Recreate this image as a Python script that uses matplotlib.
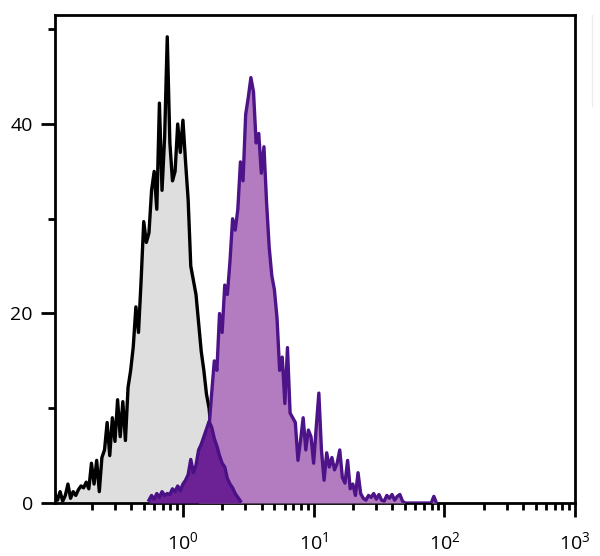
import numpy as np
import matplotlib
matplotlib.use("Agg")
import matplotlib.pyplot as plt
from matplotlib.lines import Line2D
from matplotlib.ticker import LogLocator, NullFormatter, MultipleLocator

plt.rcParams["font.family"] = ["Open Sans", "DejaVu Sans"]
plt.rcParams["mathtext.fontset"] = "custom"
plt.rcParams["mathtext.rm"] = "Open Sans"
plt.rcParams["mathtext.it"] = "Open Sans"

# Channel grid: 50 log channels per decade starting at 10^-1
channel_step = 0.02

# Isotype control (gray), starting at channel 1
gray_start = 1
gray_counts = [1.0, 0.3, 1.2, 0.2, 0.8, 2.0, 0.5, 1.2, 0.8, 1.4,
               1.8, 1.6, 2.2, 1.5, 4.2, 2.0, 4.5, 1.2, 4.8, 5.6,
               8.5, 5.0, 9.0, 6.5, 10.9, 7.0, 10.7, 6.6, 12.2, 14.0,
               16.5, 20.7, 18.0, 23.5, 29.7, 27.5, 28.5, 33.0, 35.0, 31.0,
               42.2, 33.0, 38.6, 49.2, 38.0, 34.0, 35.0, 40.0, 37.0, 40.4,
               36.0, 32.0, 25.0, 23.5, 22.0, 19.0, 16.0, 14.0, 11.5, 10.0,
               7.0, 4.5, 2.0, 0.5]

# Stained sample (purple), starting at channel 56
purple_start = 56
purple_counts = [0.5, 1.5, 3.0, 5.0, 8.0, 11.6, 15.0, 14.0, 20.0, 18.0,
                 23.0, 22.0, 25.5, 30.0, 28.8, 31.0, 36.0, 34.0, 41.0, 42.8,
                 44.9, 43.4, 38.0, 39.0, 34.8, 37.6, 31.7, 27.0, 24.0, 22.5,
                 19.5, 14.0, 15.4, 10.5, 16.4, 9.5, 9.0, 8.5, 4.5, 6.6,
                 9.0, 5.6, 7.7, 7.0, 4.2, 8.0, 11.6, 5.6, 2.4, 5.3,
                 3.8, 4.8, 3.5, 4.2, 5.6, 2.7, 2.1, 4.5, 1.5, 2.0,
                 0.8, 3.2, 1.0, 0.5, 0.3, 0.8, 0.6, 1.0, 0.4, 0.9,
                 0.3, 0.2, 0.8, 0.5, 0.9, 0.3, 0.7, 0.9, 0.2, 0.0,
                 0.0, 0.0, 0.0, 0.0, 0.0, 0.0, 0.0, 0.0, 0.0, 0.0,
                 0.7, 0.0]

# Low population overlapping the control (dark purple), starting at channel 37
dim_start = 37
dim_counts = [0.3, 0.8, 0.4, 1.0, 0.6, 1.2, 0.8, 1.0, 0.9, 1.5,
              1.2, 1.8, 1.3, 2.0, 2.4, 3.0, 4.6, 3.2, 4.0, 5.6,
              6.2, 7.0, 7.8, 8.6, 8.0, 6.8, 6.0, 5.0, 4.2, 3.8,
              2.6, 2.0, 1.6, 1.0, 0.6, 0.2]


def channels_to_x(start, n):
    idx = np.arange(start, start + n)
    return 10 ** (-1 + channel_step * idx)


fig = plt.figure(figsize=(6.0, 5.56), dpi=100)
ax = fig.add_axes([0.0917, 0.0953, 0.8666, 0.8777])

xg = channels_to_x(gray_start, len(gray_counts))
ax.fill_between(xg, gray_counts, 0, color="#dedede", lw=0, zorder=1)
ax.plot(xg, gray_counts, color="black", lw=2.4, zorder=2)

xp = channels_to_x(purple_start, len(purple_counts))
ax.fill_between(xp, purple_counts, 0, color="#b37cc0", lw=0, zorder=3)
ax.plot(xp, purple_counts, color="#4c1488", lw=2.4, zorder=4)

xd = channels_to_x(dim_start, len(dim_counts))
ax.fill_between(xd, dim_counts, 0, color="#6c2294", lw=0, zorder=5)
ax.plot(xd, dim_counts, color="#4a1086", lw=2.4, zorder=6)

ax.set_xscale("log")
ax.set_xlim(0.105, 1000)
ax.set_ylim(0, 51.5)

ax.xaxis.set_major_locator(LogLocator(base=10, numticks=10))
ax.xaxis.set_minor_locator(LogLocator(base=10, subs=np.arange(2, 10), numticks=20))
ax.xaxis.set_minor_formatter(NullFormatter())
ax.set_xticks([1, 10, 100, 1000])
ax.set_xticklabels([r"$10^0$", r"$10^1$", r"$10^2$", r"$10^3$"])

ax.yaxis.set_major_locator(MultipleLocator(20))
ax.yaxis.set_minor_locator(MultipleLocator(10))

ax.tick_params(which="major", direction="out", length=10, width=2,
               labelsize=14, color="black", pad=6)
ax.tick_params(which="minor", direction="out", length=5, width=2, color="black")
ax.tick_params(axis="x", which="major", pad=10)

for side in ["left", "right", "top", "bottom"]:
    ax.spines[side].set_linewidth(2)
    ax.spines[side].set_color("black")

# faint scanning artefact at the right edge
fig.add_artist(Line2D([0.987, 0.987], [0.81, 0.973], color="#ececec", lw=1))

fig.savefig("out.png", dpi=100)
